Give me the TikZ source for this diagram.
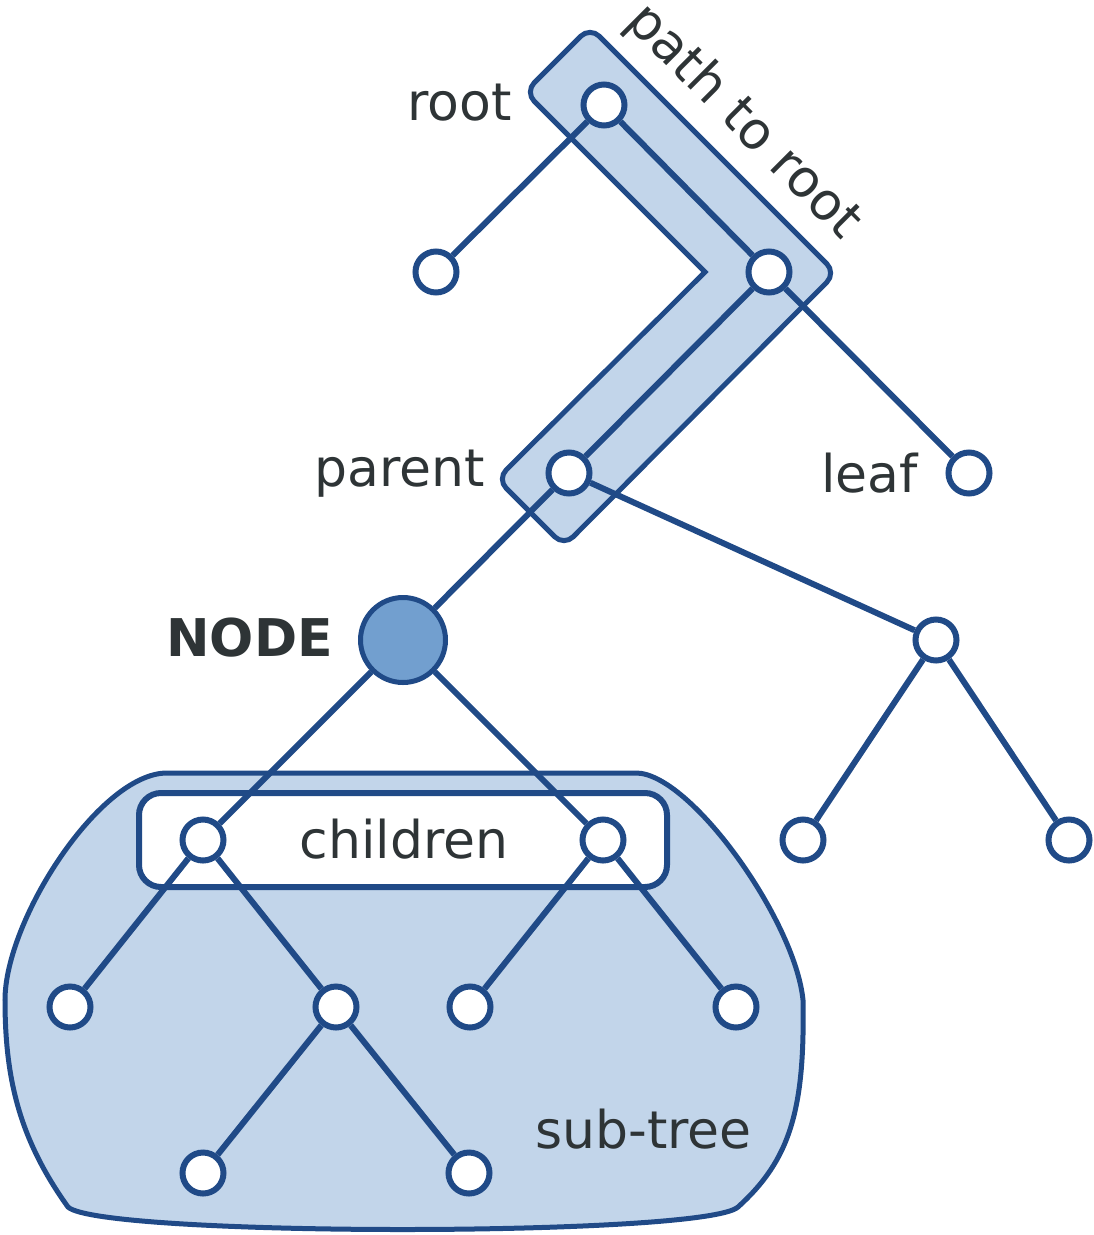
\documentclass[tikz,border=0pt]{standalone}
\usepackage{fontspec}
\setmainfont{DejaVu Sans}

\definecolor{treeblue}{RGB}{32,74,135}
\definecolor{nodeblue}{RGB}{114,159,207}
\definecolor{shadeblue}{RGB}{194,213,234}
\definecolor{textgrey}{RGB}{46,52,54}

\begin{document}
\begin{tikzpicture}
[
	x=1pt,y=-1pt,
	vx/.style={circle,draw=treeblue,fill=white,line width=6,minimum size=41,inner sep=0},
	cur/.style={circle,draw=treeblue,fill=nodeblue,line width=5,minimum size=85,inner sep=0},
	lbl/.style={text=textgrey,inner sep=0,font=\fontsize{52}{62}\selectfont},
	ln/.style={draw=treeblue,line width=6}
]

\useasboundingbox (0,0) rectangle (1094,1235);

% sub-tree area
\filldraw[fill=shadeblue,draw=treeblue,line width=5]
	(167,773) -- (636,773)
	.. controls (690,773) and (795,920) .. (803,1000)
	.. controls (805,1110) and (790,1160) .. (738,1207)
	.. controls (705,1237) and (100,1237) .. (68,1207)
	.. controls (20,1140) and (5,1080) .. (5,1000)
	.. controls (5,920) and (100,773) .. (167,773) -- cycle;

% children box
\filldraw[fill=white,draw=treeblue,line width=6,rounded corners=22] (139,793) rectangle (667,887);

% path to root band
\filldraw[fill=shadeblue,draw=treeblue,line width=5]
	(705,272) [rounded corners=13] -- (525,92) -- (590,27) -- (836,273) -- (564,546) -- (497,479) [sharp corners] -- cycle;

\node[vx] (root) at (604,105) {};
\node[vx] (left) at (436,272) {};
\node[vx] (mid) at (769,272) {};
\node[vx] (parent) at (569,473) {};
\node[vx] (leaf) at (969,473) {};

\node[cur] (cur) at (403,640) {};
\node[vx] (uncle) at (936,640) {};
\node[vx] (u1) at (803,840) {};
\node[vx] (u2) at (1069,840) {};

\node[vx] (c1) at (203,840) {};
\node[vx] (c2) at (603,840) {};
\node[vx] (c11) at (70,1007) {};
\node[vx] (c12) at (336,1007) {};
\node[vx] (c21) at (470,1007) {};
\node[vx] (c22) at (736,1007) {};
\node[vx] (c121) at (203,1173) {};
\node[vx] (c122) at (469,1173) {};

\draw[ln] (root) -- (left);
\draw[ln] (root) -- (mid);
\draw[ln] (mid) -- (leaf);
\draw[ln] (mid) -- (parent);
\draw[ln] (parent) -- (cur);
\draw[ln] (parent) -- (uncle);
\draw[ln] (uncle) -- (u1);
\draw[ln] (uncle) -- (u2);
\draw[ln] (cur) -- (c1);
\draw[ln] (cur) -- (c2);
\draw[ln] (c1) -- (c11);
\draw[ln] (c1) -- (c12);
\draw[ln] (c2) -- (c21);
\draw[ln] (c2) -- (c22);
\draw[ln] (c12) -- (c121);
\draw[ln] (c12) -- (c122);

% labels
\node[lbl,anchor=base east] (lroot) at (512,120) {root};
\node[lbl,anchor=base east] (lparent) at (485,486) {parent};
\node[lbl,anchor=base east] (lleaf) at (918,492) {leaf};
\node[lbl,anchor=base east,font=\fontsize{52}{62}\selectfont\bfseries] (lcur) at (333,656) {NODE};
\node[lbl,anchor=base] (lchildren) at (404,858) {children};
\node[lbl,anchor=base west] (lsub) at (535,1148) {sub-tree};
\node[lbl,rotate=-45] (lpath) at (743,122) {path to root};

\end{tikzpicture}
\end{document}
